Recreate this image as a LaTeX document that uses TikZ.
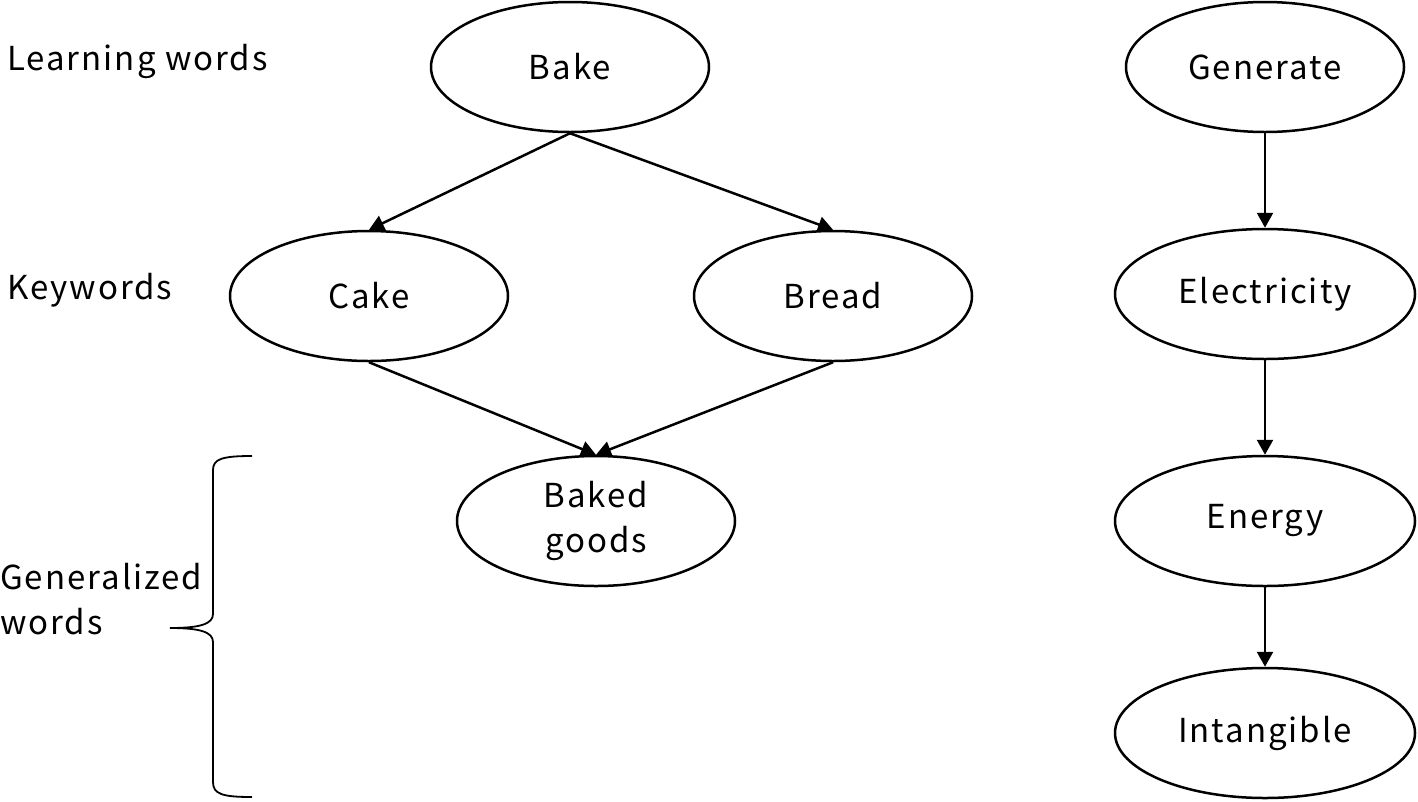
\documentclass[tikz,border=0pt]{standalone}
\usepackage{fontspec}
\setmainfont[LetterSpace=6]{Noto Sans CJK JP}
\usetikzlibrary{shapes.geometric,arrows.meta}
\begin{document}
\begin{tikzpicture}[x=1pt,y=-1pt,
  every node/.style={font=\fontsize{33}{45}\selectfont},
  wordA/.style={ellipse,draw,line width=2.5pt,minimum width=278pt,minimum height=130pt,inner sep=0pt,align=center},
  wordB/.style={wordA,minimum width=300pt},
  lbl/.style={anchor=west,align=left,inner sep=0pt},
  arr/.style={line width=2.5pt,-{Triangle[length=15pt,width=16pt]}}]
\useasboundingbox (0,0) rectangle (1418,801);
\node[wordA] (bake) at (570,67) {Bake};
\node[wordA] (cake) at (369,296) {Cake};
\node[wordA] (bread) at (833,296) {Bread};
\node[wordA] (baked) at (596,521) {Baked\\goods};
\node[wordA] (gen) at (1265,67) {Generate};
\node[wordB] (elec) at (1265,294) {Electricity};
\node[wordB] (energy) at (1265,521) {Energy};
\node[wordB] (intang) at (1265,733) {Intangible};
\node[lbl] (l1) at (7,61) {Learning words};
\node[lbl] (l2) at (7,290) {Keywords};
\node[lbl] (l3) at (0,599) {Generalized\\words};
\draw[arr] (bake.south) -- (cake.north);
\draw[arr] (bake.south) -- (bread.north);
\draw[arr] (cake.south) -- (baked.north);
\draw[arr] (bread.south) -- (baked.north);
\draw[arr] (gen) -- (elec);
\draw[arr] (elec) -- (energy);
\draw[arr] (energy) -- (intang);
\draw[line width=1.8pt] (252,456) .. controls (222,456) and (213,459) .. (213,470) -- (213,614)
  .. controls (213,624) and (200,628) .. (170,628)
  .. controls (200,628) and (213,632) .. (213,642) -- (213,782)
  .. controls (213,794) and (222,797) .. (252,797);
\end{tikzpicture}
\end{document}
